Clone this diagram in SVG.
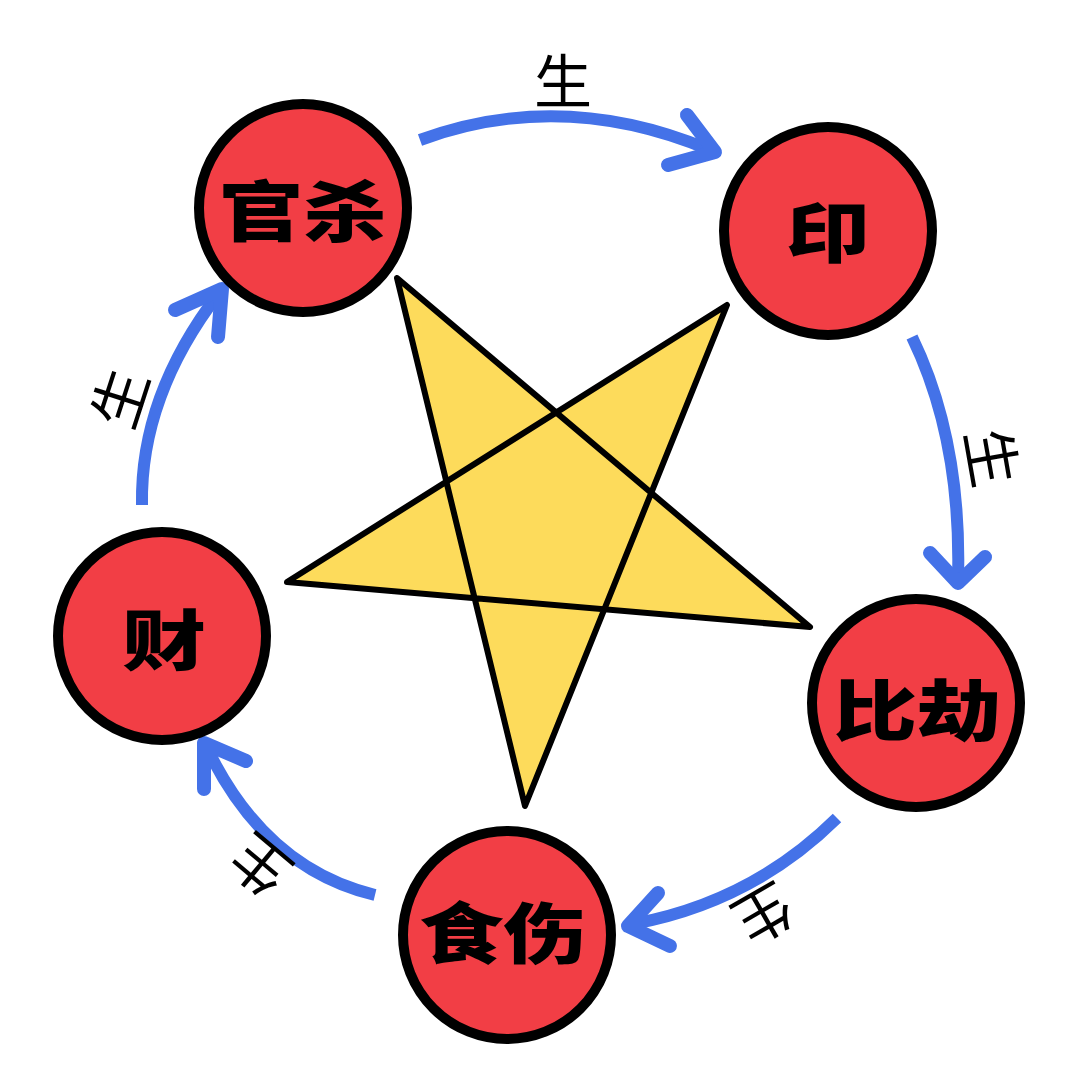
<svg xmlns="http://www.w3.org/2000/svg" width="1080" height="1080" viewBox="0 0 1080 1080">
<style>
.bg{fill:#ffffff}
.node circle{fill:#F23E45;stroke:#000;stroke-width:10}
.node text{font-family:"Noto Sans CJK SC","Noto Sans",sans-serif;font-weight:900;font-size:84px;fill:#000;text-anchor:middle;dominant-baseline:central}
.arc{fill:none;stroke:#4472E8;stroke-width:12;stroke-linecap:butt}
.head{fill:none;stroke:#4472E8;stroke-width:14;stroke-linecap:round;stroke-linejoin:round}
.lbl{font-family:"Noto Sans CJK SC","Noto Sans",sans-serif;font-weight:400;font-size:58px;fill:#000;text-anchor:middle;dominant-baseline:central}
.star{fill:#FDDB5B;stroke:#000;stroke-width:6;stroke-linejoin:round}
</style>
<rect class="bg" x="0" y="0" width="1080" height="1080"/>
<g id="star">
<polygon class="star" points="397,278 810,627 287,582 727,305 525,806"/>
</g>
<g id="connectors">
<path class="arc" d="M420,140 Q562,88 710,150"/>
<polyline class="head" points="687,115 715,152 668,165"/>
<path class="arc" d="M912,337 Q962,440 958,580"/>
<polyline class="head" points="930,553 958,583 985,557"/>
<path class="arc" d="M837,818 Q752,902 633,924"/>
<polyline class="head" points="658,893 628,926 670,946"/>
<path class="arc" d="M375,895 Q266,869 208,750"/>
<polyline class="head" points="246,761 204,743 204,789"/>
<path class="arc" d="M142,505 Q140,396 219,293"/>
<polyline class="head" points="175,310 222,289 218,337"/>
<text class="lbl" x="563" y="78">生</text>
<text class="lbl" transform="translate(995,457) rotate(80)">生</text>
<text class="lbl" transform="translate(765,917) rotate(150)">生</text>
<text class="lbl" transform="translate(258,868) rotate(220)">生</text>
<text class="lbl" transform="translate(117,397) rotate(-72)">生</text>
</g>
<g id="node-guansha" class="node">
<circle cx="303" cy="208" r="104"/>
<text transform="translate(303,208) scale(1,0.78)">官杀</text>
</g>
<g id="node-yin" class="node">
<circle cx="828" cy="231" r="104"/>
<text transform="translate(828,229) scale(1,0.78)">印</text>
</g>
<g id="node-bijie" class="node">
<circle cx="916" cy="703" r="104"/>
<text transform="translate(917,707) scale(1,0.78)">比劫</text>
</g>
<g id="node-shishang" class="node">
<circle cx="507" cy="935" r="104"/>
<text transform="translate(503,930) scale(1,0.78)">食伤</text>
</g>
<g id="node-cai" class="node">
<circle cx="162" cy="636" r="104"/>
<text transform="translate(164,637) scale(1,0.78)">财</text>
</g>
</svg>
